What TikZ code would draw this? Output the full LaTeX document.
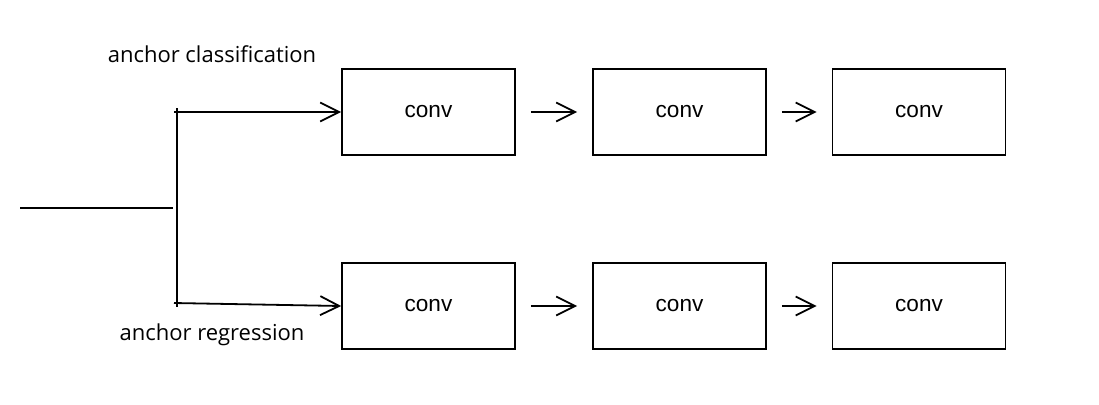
\documentclass[tikz,border=0pt]{standalone}
\usepackage{fontspec}
\setmainfont{Open Sans}
\newfontfamily\convfont{Liberation Sans}
\usetikzlibrary{arrows.meta}

\begin{document}
\begin{tikzpicture}[x=0.5pt,y=-0.5pt,
  convbox/.style={draw,line width=0.8pt,minimum width=86.5pt,minimum height=43pt,inner sep=0pt,font=\convfont\fontsize{11.3}{13}\selectfont},
  link/.style={line width=0.9pt,-{Straight Barb[length=9.5pt,width=9.5pt,line width=0.9pt]}},
  gap/.style={shorten <=7.5pt,shorten >=7.5pt}]

\useasboundingbox (0,0) rectangle (1099,404);

\coordinate (cIn)    at (20,208);
\coordinate (cJoin)  at (173,208);
\coordinate (cTopV)  at (177,108);
\coordinate (cBotV)  at (177,307);
\coordinate (cTop)   at (174,112);
\coordinate (cBot)   at (174,303);

\node[convbox] (A1) at (428.5,112) {conv};
\node[convbox] (A2) at (679.5,112) {conv};
\node[convbox] (A3) at (919,112)   {conv};
\node[convbox] (R1) at (428.5,306) {conv};
\node[convbox] (R2) at (679.5,306) {conv};
\node[convbox] (R3) at (919,306)   {conv};

\node[font=\fontsize{11}{13}\selectfont] (Lcls) at (212,54)  {anchor classification};
\node[font=\fontsize{11}{13}\selectfont] (Lreg) at (212,335) {anchor regression};

\draw[line width=0.9pt] (cIn) -- (cJoin);
\draw[line width=0.9pt] (cTopV) -- (cBotV);
\draw[link] (cTop) -- (A1.west);
\draw[link] (cBot) -- (R1.west);
\draw[link,gap] (A1) -- (A2);
\draw[link,gap] (A2) -- (A3);
\draw[link,gap] (R1) -- (R2);
\draw[link,gap] (R2) -- (R3);

\end{tikzpicture}
\end{document}
